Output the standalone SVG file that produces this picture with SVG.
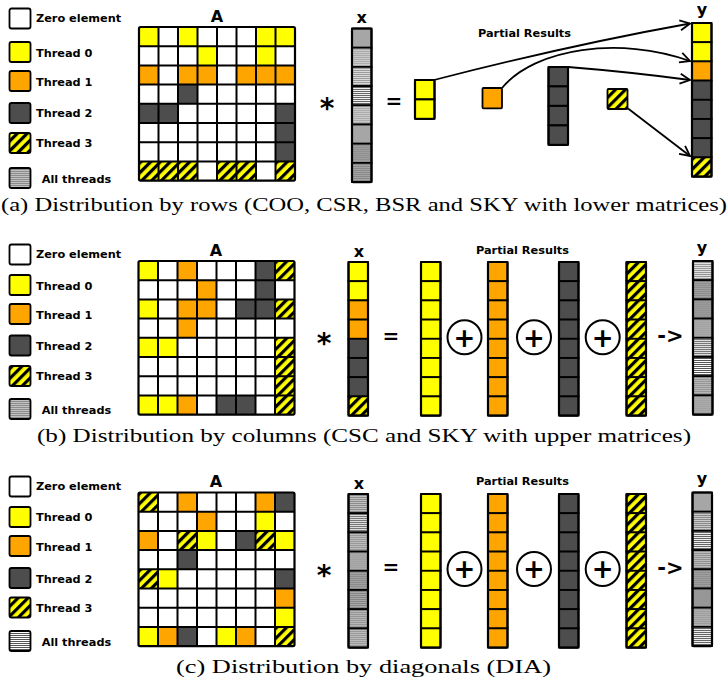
<svg xmlns="http://www.w3.org/2000/svg" xmlns:xlink="http://www.w3.org/1999/xlink" width="728" height="689" viewBox="0 0 728 689">
<style>
.Y{fill:#ffff00}.O{fill:#ffa500}.D{fill:#4d4d4d}.W{fill:#fff}.H{fill:url(#hatch)}
.s1{fill:url(#s1)}.s2{fill:url(#s2)}.s3{fill:url(#s3)}.s4{fill:url(#s4)}
.vc{stroke:#000;stroke-width:1.8}
.frame{fill:none;stroke:#000;stroke-width:2.2}
.grid{fill:none;stroke:#000;stroke-width:2}
.lb{font-family:"DejaVu Sans",sans-serif;font-weight:bold;fill:#000}
.leg{font-size:11.3px}
.box{stroke:#000;stroke-width:1.8}
.big{font-size:16px;text-anchor:middle}
.pr{font-size:11.3px}
.op{text-anchor:middle}
.cap{font-family:"Liberation Serif",serif;font-size:19px;fill:#000}
.arr{fill:none;stroke:#000;stroke-width:1.8;marker-end:url(#ah)}
.circ{fill:#fff;stroke:#000;stroke-width:2}
</style>
<defs>
<pattern id="hatch" width="7" height="7" patternUnits="userSpaceOnUse" patternTransform="rotate(45)"><rect width="7" height="7" fill="#ffff00"/><rect width="3.2" height="7" fill="#000"/></pattern>
<pattern id="s1" width="4" height="2" patternUnits="userSpaceOnUse"><rect width="4" height="2" fill="#8c8c8c"/><rect width="4" height="1" fill="#c0c0c0"/></pattern>
<pattern id="s2" width="4" height="2" patternUnits="userSpaceOnUse"><rect width="4" height="2" fill="#959595"/><rect width="4" height="1" fill="#e0e0e0"/></pattern>
<pattern id="s3" width="4" height="2" patternUnits="userSpaceOnUse"><rect width="4" height="2" fill="#555"/><rect width="4" height="1" fill="#fff"/></pattern>
<pattern id="s4" width="4" height="2" patternUnits="userSpaceOnUse"><rect width="4" height="2" fill="#858585"/><rect width="4" height="1" fill="#a8a8a8"/></pattern>
<rect id="c" width="19.5" height="19.2"/>
<path id="grid" class="grid" d="M19.5,0V153.6M39,0V153.6M58.5,0V153.6M78,0V153.6M97.5,0V153.6M117,0V153.6M136.5,0V153.6M0,19.2H156M0,38.4H156M0,57.6H156M0,76.8H156M0,96H156M0,115.2H156M0,134.4H156"/>
<marker id="ah" viewBox="-11 -7 13 14" refX="0" refY="0" markerWidth="13" markerHeight="14" markerUnits="userSpaceOnUse" orient="auto"><path d="M-10,-5 L0,0 L-10,5" fill="none" stroke="#000" stroke-width="1.8"/></marker>
</defs>
<rect width="728" height="689" fill="#fff"/>

<!-- ===== Panel (a) ===== -->
<g id="legend-a">
<rect class="box W" x="9.5" y="8.5" width="21" height="20" rx="2"/><text class="lb leg" x="36" y="22">Zero element</text>
<rect class="box Y" x="9.5" y="42" width="21" height="20" rx="2"/><text class="lb leg" x="36" y="56.5">Thread 0</text>
<rect class="box O" x="9.5" y="71" width="21" height="20" rx="2"/><text class="lb leg" x="36" y="85.5">Thread 1</text>
<rect class="box D" x="9.5" y="103" width="21" height="20" rx="2"/><text class="lb leg" x="36" y="117">Thread 2</text>
<rect class="box H" x="9.5" y="133" width="21" height="20" rx="2"/><text class="lb leg" x="36" y="147">Thread 3</text>
<rect class="box s1" x="9.5" y="168" width="21" height="20" rx="2"/><text class="lb leg" x="41.7" y="183">All threads</text>
</g>
<g id="matrix-a">
<text class="lb big" x="217" y="21.5">A</text>
<g transform="translate(139,27)">
<rect width="156" height="153.6" fill="#fff"/>
<use href="#c" class="Y" x="0" y="0"/><use href="#c" class="Y" x="39" y="0"/><use href="#c" class="Y" x="117" y="0"/><use href="#c" class="Y" x="136.5" y="0"/>
<use href="#c" class="Y" x="58.5" y="19.2"/><use href="#c" class="Y" x="117" y="19.2"/>
<use href="#c" class="O" x="0" y="38.4"/><use href="#c" class="O" x="39" y="38.4"/><use href="#c" class="O" x="58.5" y="38.4"/><use href="#c" class="O" x="97.5" y="38.4"/><use href="#c" class="O" x="117" y="38.4"/><use href="#c" class="O" x="136.5" y="38.4"/>
<use href="#c" class="D" x="39" y="57.6"/>
<use href="#c" class="D" x="0" y="76.8"/><use href="#c" class="D" x="19.5" y="76.8"/><use href="#c" class="D" x="136.5" y="76.8"/>
<use href="#c" class="D" x="136.5" y="96"/>
<use href="#c" class="D" x="136.5" y="115.2"/>
<use href="#c" class="H" x="0" y="134.4"/><use href="#c" class="H" x="19.5" y="134.4"/><use href="#c" class="H" x="39" y="134.4"/><use href="#c" class="H" x="78" y="134.4"/><use href="#c" class="H" x="97.5" y="134.4"/><use href="#c" class="H" x="136.5" y="134.4"/>
<use href="#grid"/>
<rect class="frame" width="156" height="153.6" rx="1.5"/>
</g>
</g>
<text class="lb op" x="327" y="118" font-size="28">*</text>
<g id="vector-x-a">
<text class="lb big" x="361.7" y="23">x</text>
<g transform="translate(352,28.5)">
<use href="#c" class="vc s1" y="0"/><use href="#c" class="vc s2" y="19.2"/><use href="#c" class="vc s2" y="38.4"/><use href="#c" class="vc s3" y="57.6"/><use href="#c" class="vc s2" y="76.8"/><use href="#c" class="vc s1" y="96"/><use href="#c" class="vc s4" y="115.2"/><use href="#c" class="vc s4" y="134.4"/>
<rect class="frame" width="19.5" height="153.6" rx="1"/>
</g>
</g>
<text class="lb op" x="394" y="108" font-size="20">=</text>
<text class="lb pr" x="478" y="37">Partial Results</text>
<g id="partial-0-a" transform="translate(415,80)">
<use href="#c" class="vc Y" y="0"/><use href="#c" class="vc Y" y="19.5"/>
<rect class="frame" width="19.5" height="39" rx="1"/>
</g>
<g id="partial-1-a"><rect class="vc O" x="482.5" y="88" width="19.5" height="20.3" rx="1"/></g>
<g id="partial-2-a" transform="translate(548.5,67)">
<use href="#c" class="vc D" y="0"/><use href="#c" class="vc D" y="19.5"/><use href="#c" class="vc D" y="39"/><use href="#c" class="vc D" y="58.5"/>
<rect class="frame" width="19.5" height="78" rx="1"/>
</g>
<g id="partial-3-a"><rect class="vc H" x="607.5" y="89" width="20" height="20" rx="1"/></g>
<g id="vector-y-a">
<text class="lb big" x="702" y="15">y</text>
<g transform="translate(692,23)">
<use href="#c" class="vc Y" y="0"/><use href="#c" class="vc Y" y="19.2"/><use href="#c" class="vc O" y="38.4"/><use href="#c" class="vc D" y="57.6"/><use href="#c" class="vc D" y="76.8"/><use href="#c" class="vc D" y="96"/><use href="#c" class="vc D" y="115.2"/><use href="#c" class="vc H" y="134.4"/>
<rect class="frame" width="19.5" height="153.6" rx="1"/>
</g>
</g>
<g id="connectors-a">
<path class="arr" d="M434,80 Q570,45 690,23.5"/>
<path class="arr" d="M502,88 C535,48 620,36 690,61"/>
<path class="arr" d="M568,67 Q630,72 690,80"/>
<path class="arr" d="M628,108.5 L690,156"/>
</g>
<text class="cap" x="1" y="211" textLength="726" lengthAdjust="spacingAndGlyphs">(a) Distribution by rows (COO, CSR, BSR and SKY with lower matrices)</text>

<!-- ===== Panel (b) ===== -->
<g id="legend-b">
<rect class="box W" x="9.5" y="244.5" width="21" height="20" rx="2"/><text class="lb leg" x="36" y="258">Zero element</text>
<rect class="box Y" x="9.5" y="275" width="21" height="20" rx="2"/><text class="lb leg" x="36" y="289.5">Thread 0</text>
<rect class="box O" x="9.5" y="304" width="21" height="20" rx="2"/><text class="lb leg" x="36" y="319">Thread 1</text>
<rect class="box D" x="9.5" y="335.5" width="21" height="20" rx="2"/><text class="lb leg" x="36" y="349.5">Thread 2</text>
<rect class="box H" x="9.5" y="366" width="21" height="20" rx="2"/><text class="lb leg" x="36" y="380">Thread 3</text>
<rect class="box s1" x="9.5" y="399" width="21" height="20" rx="2"/><text class="lb leg" x="41.7" y="414">All threads</text>
</g>
<g id="matrix-b">
<text class="lb big" x="216" y="256">A</text>
<g transform="translate(138.5,261)">
<rect width="156" height="153.6" fill="#fff"/>
<use href="#c" class="Y" x="0" y="0"/><use href="#c" class="O" x="39" y="0"/><use href="#c" class="D" x="117" y="0"/><use href="#c" class="H" x="136.5" y="0"/>
<use href="#c" class="O" x="58.5" y="19.2"/><use href="#c" class="D" x="117" y="19.2"/>
<use href="#c" class="Y" x="0" y="38.4"/><use href="#c" class="O" x="39" y="38.4"/><use href="#c" class="O" x="58.5" y="38.4"/><use href="#c" class="D" x="97.5" y="38.4"/><use href="#c" class="D" x="117" y="38.4"/><use href="#c" class="H" x="136.5" y="38.4"/>
<use href="#c" class="O" x="39" y="57.6"/>
<use href="#c" class="Y" x="0" y="76.8"/><use href="#c" class="Y" x="19.5" y="76.8"/><use href="#c" class="H" x="136.5" y="76.8"/>
<use href="#c" class="H" x="136.5" y="96"/>
<use href="#c" class="H" x="136.5" y="115.2"/>
<use href="#c" class="Y" x="0" y="134.4"/><use href="#c" class="Y" x="19.5" y="134.4"/><use href="#c" class="O" x="39" y="134.4"/><use href="#c" class="D" x="78" y="134.4"/><use href="#c" class="D" x="97.5" y="134.4"/><use href="#c" class="H" x="136.5" y="134.4"/>
<use href="#grid"/>
<rect class="frame" width="156" height="153.6" rx="1.5"/>
</g>
</g>
<text class="lb op" x="324" y="353" font-size="28">*</text>
<g id="vector-x-b">
<text class="lb big" x="359" y="257">x</text>
<g transform="translate(348.5,262)">
<use href="#c" class="vc Y" y="0"/><use href="#c" class="vc Y" y="19.2"/><use href="#c" class="vc O" y="38.4"/><use href="#c" class="vc O" y="57.6"/><use href="#c" class="vc D" y="76.8"/><use href="#c" class="vc D" y="96"/><use href="#c" class="vc D" y="115.2"/><use href="#c" class="vc H" y="134.4"/>
<rect class="frame" width="19.5" height="153.6" rx="1"/>
</g>
</g>
<text class="lb op" x="391" y="342.5" font-size="20">=</text>
<text class="lb pr" x="476" y="254">Partial Results</text>
<g id="partial-0-b" transform="translate(421,262)">
<use href="#c" class="vc Y" y="0"/><use href="#c" class="vc Y" y="19.2"/><use href="#c" class="vc Y" y="38.4"/><use href="#c" class="vc Y" y="57.6"/><use href="#c" class="vc Y" y="76.8"/><use href="#c" class="vc Y" y="96"/><use href="#c" class="vc Y" y="115.2"/><use href="#c" class="vc Y" y="134.4"/>
<rect class="frame" width="19.5" height="153.6" rx="1"/>
</g>
<g id="plus-1-b"><circle class="circ" cx="464.5" cy="337.3" r="17"/><text class="lb op" x="464.5" y="346.5" font-size="26">+</text></g>
<g id="partial-1-b" transform="translate(488,262)">
<use href="#c" class="vc O" y="0"/><use href="#c" class="vc O" y="19.2"/><use href="#c" class="vc O" y="38.4"/><use href="#c" class="vc O" y="57.6"/><use href="#c" class="vc O" y="76.8"/><use href="#c" class="vc O" y="96"/><use href="#c" class="vc O" y="115.2"/><use href="#c" class="vc O" y="134.4"/>
<rect class="frame" width="19.5" height="153.6" rx="1"/>
</g>
<g id="plus-2-b"><circle class="circ" cx="534" cy="337.3" r="17"/><text class="lb op" x="534" y="346.5" font-size="26">+</text></g>
<g id="partial-2-b" transform="translate(559,262)">
<use href="#c" class="vc D" y="0"/><use href="#c" class="vc D" y="19.2"/><use href="#c" class="vc D" y="38.4"/><use href="#c" class="vc D" y="57.6"/><use href="#c" class="vc D" y="76.8"/><use href="#c" class="vc D" y="96"/><use href="#c" class="vc D" y="115.2"/><use href="#c" class="vc D" y="134.4"/>
<rect class="frame" width="19.5" height="153.6" rx="1"/>
</g>
<g id="plus-3-b"><circle class="circ" cx="602.7" cy="337.3" r="17"/><text class="lb op" x="602.7" y="346.5" font-size="26">+</text></g>
<g id="partial-3-b" transform="translate(626.5,262)">
<use href="#c" class="vc H" y="0"/><use href="#c" class="vc H" y="19.2"/><use href="#c" class="vc H" y="38.4"/><use href="#c" class="vc H" y="57.6"/><use href="#c" class="vc H" y="76.8"/><use href="#c" class="vc H" y="96"/><use href="#c" class="vc H" y="115.2"/><use href="#c" class="vc H" y="134.4"/>
<rect class="frame" width="19.5" height="153.6" rx="1"/>
</g>
<text class="lb op" x="670.5" y="343" font-size="21">-&gt;</text>
<g id="vector-y-b">
<text class="lb big" x="702" y="252.5">y</text>
<g transform="translate(693,261)">
<use href="#c" class="vc s2" y="0"/><use href="#c" class="vc s4" y="19.2"/><use href="#c" class="vc s4" y="38.4"/><use href="#c" class="vc s1" y="57.6"/><use href="#c" class="vc s3" y="76.8"/><use href="#c" class="vc s3" y="96"/><use href="#c" class="vc s1" y="115.2"/><use href="#c" class="vc s1" y="134.4"/>
<rect class="frame" width="19.5" height="153.6" rx="1"/>
</g>
</g>
<text class="cap" x="37" y="442" textLength="654" lengthAdjust="spacingAndGlyphs">(b) Distribution by columns (CSC and SKY with upper matrices)</text>

<!-- ===== Panel (c) ===== -->
<g id="legend-c">
<rect class="box W" x="9.5" y="476.5" width="21" height="20" rx="2"/><text class="lb leg" x="36" y="490">Zero element</text>
<rect class="box Y" x="9.5" y="507" width="21" height="20" rx="2"/><text class="lb leg" x="36" y="521">Thread 0</text>
<rect class="box O" x="9.5" y="536" width="21" height="20" rx="2"/><text class="lb leg" x="36" y="551">Thread 1</text>
<rect class="box D" x="9.5" y="568" width="21" height="20" rx="2"/><text class="lb leg" x="36" y="582.5">Thread 2</text>
<rect class="box H" x="9.5" y="597.5" width="21" height="20" rx="2"/><text class="lb leg" x="36" y="612">Thread 3</text>
<rect class="box s3" x="9.5" y="631" width="21" height="20" rx="2"/><text class="lb leg" x="41.7" y="646">All threads</text>
</g>
<g id="matrix-c">
<text class="lb big" x="216" y="487">A</text>
<g transform="translate(138.5,492.5)">
<rect width="156" height="153.6" fill="#fff"/>
<use href="#c" class="H" x="0" y="0"/><use href="#c" class="O" x="39" y="0"/><use href="#c" class="O" x="117" y="0"/><use href="#c" class="D" x="136.5" y="0"/>
<use href="#c" class="O" x="58.5" y="19.2"/><use href="#c" class="Y" x="117" y="19.2"/>
<use href="#c" class="O" x="0" y="38.4"/><use href="#c" class="H" x="39" y="38.4"/><use href="#c" class="Y" x="58.5" y="38.4"/><use href="#c" class="D" x="97.5" y="38.4"/><use href="#c" class="H" x="117" y="38.4"/><use href="#c" class="Y" x="136.5" y="38.4"/>
<use href="#c" class="D" x="39" y="57.6"/>
<use href="#c" class="H" x="0" y="76.8"/><use href="#c" class="Y" x="19.5" y="76.8"/><use href="#c" class="D" x="136.5" y="76.8"/>
<use href="#c" class="O" x="136.5" y="96"/>
<use href="#c" class="Y" x="136.5" y="115.2"/>
<use href="#c" class="Y" x="0" y="134.4"/><use href="#c" class="O" x="19.5" y="134.4"/><use href="#c" class="D" x="39" y="134.4"/><use href="#c" class="Y" x="78" y="134.4"/><use href="#c" class="O" x="97.5" y="134.4"/><use href="#c" class="H" x="136.5" y="134.4"/>
<use href="#grid"/>
<rect class="frame" width="156" height="153.6" rx="1.5"/>
</g>
</g>
<text class="lb op" x="324" y="585" font-size="28">*</text>
<g id="vector-x-c">
<text class="lb big" x="359" y="489">x</text>
<g transform="translate(348.5,494)">
<use href="#c" class="vc s1" y="0"/><use href="#c" class="vc s3" y="19.2"/><use href="#c" class="vc s3" y="38.4"/><use href="#c" class="vc s1" y="57.6"/><use href="#c" class="vc s4" y="76.8"/><use href="#c" class="vc s4" y="96"/><use href="#c" class="vc s1" y="115.2"/><use href="#c" class="vc s3" y="134.4"/>
<rect class="frame" width="19.5" height="153.6" rx="1"/>
</g>
</g>
<text class="lb op" x="391" y="574" font-size="20">=</text>
<text class="lb pr" x="476" y="485">Partial Results</text>
<g id="partial-0-c" transform="translate(421,494)">
<use href="#c" class="vc Y" y="0"/><use href="#c" class="vc Y" y="19.2"/><use href="#c" class="vc Y" y="38.4"/><use href="#c" class="vc Y" y="57.6"/><use href="#c" class="vc Y" y="76.8"/><use href="#c" class="vc Y" y="96"/><use href="#c" class="vc Y" y="115.2"/><use href="#c" class="vc Y" y="134.4"/>
<rect class="frame" width="19.5" height="153.6" rx="1"/>
</g>
<g id="plus-1-c"><circle class="circ" cx="464.5" cy="569" r="17"/><text class="lb op" x="464.5" y="578.2" font-size="26">+</text></g>
<g id="partial-1-c" transform="translate(488,494)">
<use href="#c" class="vc O" y="0"/><use href="#c" class="vc O" y="19.2"/><use href="#c" class="vc O" y="38.4"/><use href="#c" class="vc O" y="57.6"/><use href="#c" class="vc O" y="76.8"/><use href="#c" class="vc O" y="96"/><use href="#c" class="vc O" y="115.2"/><use href="#c" class="vc O" y="134.4"/>
<rect class="frame" width="19.5" height="153.6" rx="1"/>
</g>
<g id="plus-2-c"><circle class="circ" cx="534" cy="569" r="17"/><text class="lb op" x="534" y="578.2" font-size="26">+</text></g>
<g id="partial-2-c" transform="translate(559,494)">
<use href="#c" class="vc D" y="0"/><use href="#c" class="vc D" y="19.2"/><use href="#c" class="vc D" y="38.4"/><use href="#c" class="vc D" y="57.6"/><use href="#c" class="vc D" y="76.8"/><use href="#c" class="vc D" y="96"/><use href="#c" class="vc D" y="115.2"/><use href="#c" class="vc D" y="134.4"/>
<rect class="frame" width="19.5" height="153.6" rx="1"/>
</g>
<g id="plus-3-c"><circle class="circ" cx="602.7" cy="569" r="17"/><text class="lb op" x="602.7" y="578.2" font-size="26">+</text></g>
<g id="partial-3-c" transform="translate(626.5,494)">
<use href="#c" class="vc H" y="0"/><use href="#c" class="vc H" y="19.2"/><use href="#c" class="vc H" y="38.4"/><use href="#c" class="vc H" y="57.6"/><use href="#c" class="vc H" y="76.8"/><use href="#c" class="vc H" y="96"/><use href="#c" class="vc H" y="115.2"/><use href="#c" class="vc H" y="134.4"/>
<rect class="frame" width="19.5" height="153.6" rx="1"/>
</g>
<text class="lb op" x="670.5" y="575" font-size="21">-&gt;</text>
<g id="vector-y-c">
<text class="lb big" x="702" y="484">y</text>
<g transform="translate(692.5,492.5)">
<use href="#c" class="vc s1" y="0"/><use href="#c" class="vc s3" y="19.2"/><use href="#c" class="vc s3" y="38.4"/><use href="#c" class="vc s1" y="57.6"/><use href="#c" class="vc s4" y="76.8"/><use href="#c" class="vc s4" y="96"/><use href="#c" class="vc s1" y="115.2"/><use href="#c" class="vc s3" y="134.4"/>
<rect class="frame" width="19.5" height="153.6" rx="1"/>
</g>
</g>
<text class="cap" x="176" y="673" textLength="375" lengthAdjust="spacingAndGlyphs">(c) Distribution by diagonals (DIA)</text>
</svg>
